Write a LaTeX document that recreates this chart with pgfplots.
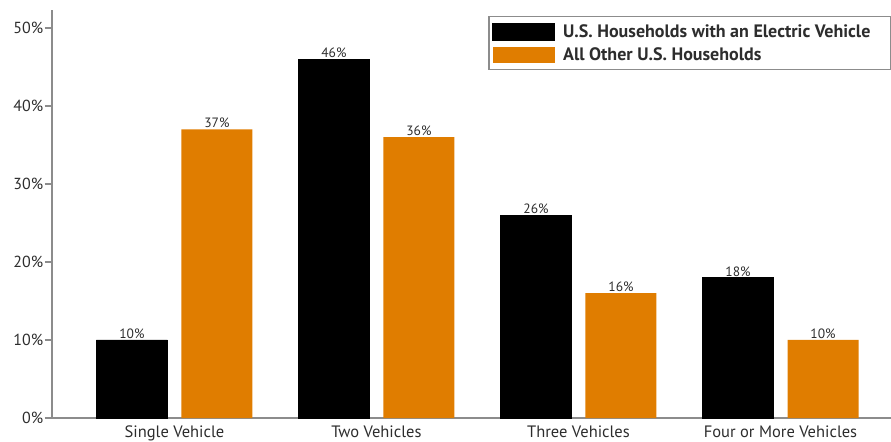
\documentclass[border=0pt]{standalone}
\usepackage{pgfplots}
\pgfplotsset{compat=1.18}
\usepackage{fontspec}
\setmainfont{PT Sans}
\usetikzlibrary{calc}
\definecolor{evorange}{RGB}{224,125,0}
\definecolor{axisgray}{RGB}{140,140,140}
\definecolor{txt}{RGB}{45,45,45}

\begin{document}
\begin{tikzpicture}
\begin{axis}[
  name=ax,
  scale only axis, width=839pt, height=408pt,
  ybar, bar width=71pt,
  xmin=-0.606, xmax=3.547, ymin=0, ymax=52.3,
  xtick={0,1,2,3},
  xticklabels={Single Vehicle, Two Vehicles, Three Vehicles, Four or More Vehicles},
  ytick={0,10,...,50},
  yticklabel={\pgfmathprintnumber{\tick}\%},
  /pgf/number format/assume math mode=true,
  axis x line*=bottom, axis y line*=left,
  axis line style={axisgray, line width=1.2pt, -},
  x tick style={draw=none},
  y tick style={axisgray, line width=1.2pt},
  tick align=outside, major tick length=7pt,
  ticklabel style={text=txt},
  yticklabel style={font=\fontsize{16}{16}\selectfont, inner sep=1.5pt},
  xticklabel style={font=\fontsize{16.5}{16.5}\selectfont, inner sep=0pt, yshift=-1pt},
  nodes near coords={\pgfmathprintnumber{\pgfplotspointmeta}\%},
  nodes near coords style={font=\fontsize{13.5}{13.5}\selectfont, text=txt, inner sep=1pt},
  legend style={at={(rel axis cs:1,0.985)}, anchor=north east,
    draw=axisgray, line width=1.2pt,
    font=\bfseries\fontsize{18}{18}\selectfont, text=txt,
    inner xsep=3pt, inner ysep=6pt, row sep=6pt,
    nodes={inner xsep=4pt, inner ysep=1pt}},
  legend cell align=left,
]
\addplot[fill=black, draw=black, bar shift=-42.5pt,
  legend image code/.code={\fill[black] (0pt,-8.5pt) rectangle (62pt,8.5pt);
    \path (66pt,0pt);}]
  coordinates {(0,10) (1,46) (2,26) (3,18)};
\addlegendentry{U.S. Households with an Electric Vehicle\kern13pt}
\addplot[fill=evorange, draw=none, bar shift=42.5pt,
  legend image code/.code={\fill[evorange] (0pt,-8pt) rectangle (62pt,8pt);
    \path (66pt,0pt);}]
  coordinates {(0,37) (1,36) (2,16) (3,10)};
\addlegendentry{All Other U.S. Households}
\end{axis}
\pgfresetboundingbox
\path ($(ax.south west)+(-52pt,-23pt)$) rectangle ($(ax.north east)+(0pt,10pt)$);
\end{tikzpicture}
\end{document}
